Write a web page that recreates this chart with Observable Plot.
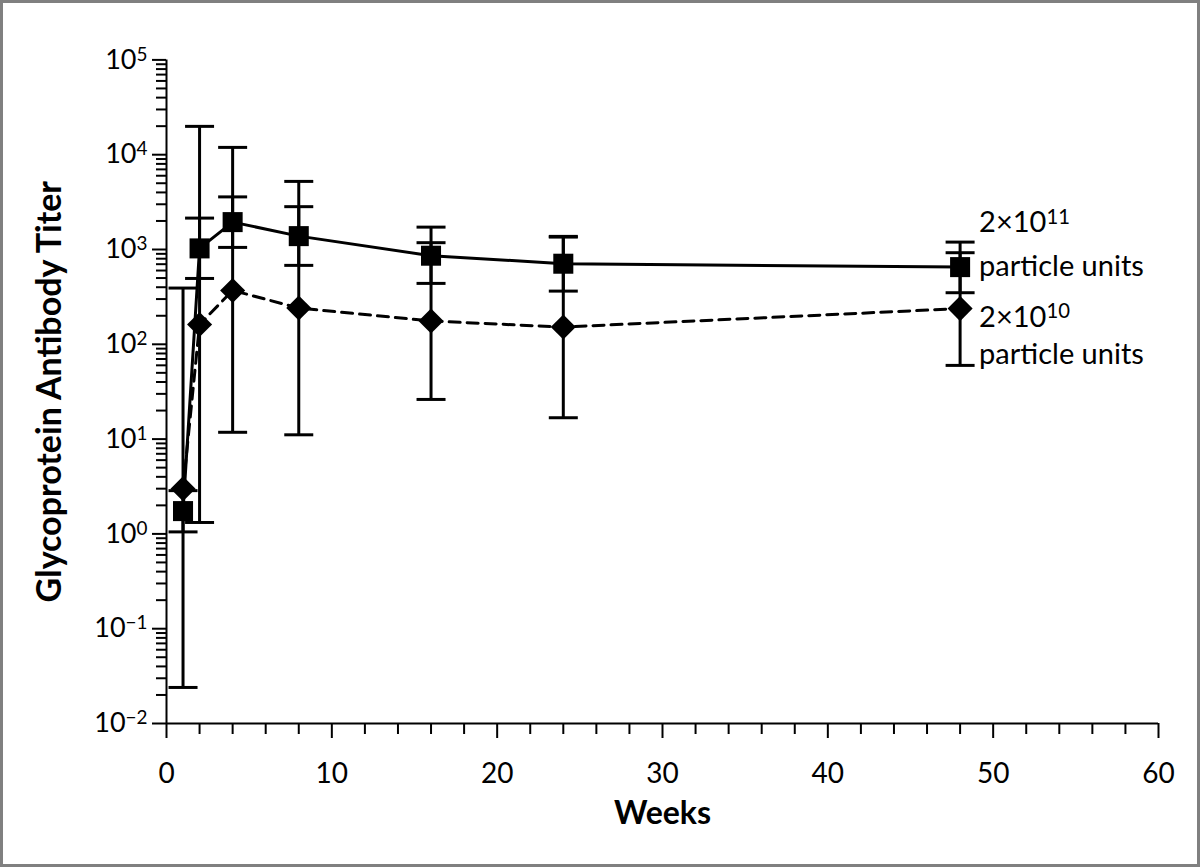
<!DOCTYPE html>
<html><head><meta charset="utf-8">
<script src="https://cdn.jsdelivr.net/npm/d3@7"></script>
<script src="https://cdn.jsdelivr.net/npm/@observablehq/plot@0.6"></script>
<style>
html,body{margin:0;padding:0;background:#fff;}
#wrap{position:relative;width:1200px;height:867px;overflow:hidden;background:#fff;}
#chart{position:absolute;left:0;top:0;}
#frame{position:absolute;left:0;top:0;width:1200px;height:867px;box-sizing:border-box;border:3px solid #808080;pointer-events:none;}
</style></head><body>
<div id="wrap"><div id="chart"></div><div id="frame"></div></div>
<script>
// ---- data ----
const weeks = [1, 2, 4, 8, 16, 24, 48];
// 2x10^11 particle units (squares, solid line)
const highMean  = [1.74, 1027, 1945, 1384, 860, 708, 652];
const highLower = [1.05, 495, 1052, 680, 439, 364, 350];
const highUpper = [2.86, 2144, 3589, 2830, 1722, 1352, 1197];
// 2x10^10 particle units (diamonds, dashed line)
const lowMean  = [3.0, 162, 370, 241, 176, 152, 238];
const lowLower = [0.024, 1.32, 11.8, 11.1, 26.2, 16.8, 59.9];
const lowUpper = [392, 19900, 11940, 5228, 1180, 1375, 925];

const xTicks = [0, 10, 20, 30, 40, 50, 60];
const xMinorTicks = [2, 4, 6, 8, 12, 14, 16, 18, 22, 24, 26, 28, 32, 34, 36, 38, 42, 44, 46, 48, 52, 54, 56, 58];
const yTicks = [1e-2, 1e-1, 1e0, 1e1, 1e2, 1e3, 1e4, 1e5];
const yMinorMultipliers = [2, 3, 4, 5, 6, 7, 8, 9];

const highLabel = ["2×10^11", "particle units"];
const lowLabel = ["2×10^10", "particle units"];
const xTitle = "Weeks";
const yTitle = "Glycoprotein Antibody Titer";

// ---- tables built from the arrays ----
const high = weeks.map((w, i) => ({week: w, mean: highMean[i], lo: highLower[i], hi: highUpper[i]}));
const low = weeks.map((w, i) => ({week: w, mean: lowMean[i], lo: lowLower[i], hi: lowUpper[i]}));
const caps = [...high, ...low].flatMap(d => [{week: d.week, v: d.lo}, {week: d.week, v: d.hi}]);
const yMinor = yTicks.slice(0, -1).flatMap(d => yMinorMultipliers.map(m => m * d));
const lastHigh = high[high.length - 1];
const lastLow = low[low.length - 1];

const capSymbol = {draw(ctx) { ctx.moveTo(-14.5, 0); ctx.lineTo(14.5, 0); }};
const expFmt = d => { const e = Math.round(Math.log10(d)); return "10^" + (e < 0 ? "\u2212" + (-e) : e); };
const noLabel = () => "";

const FONT = "Lato, 'Open Sans', sans-serif";

const chart = Plot.plot({
  width: 1200,
  height: 867,
  marginLeft: 166,
  marginRight: 42,
  marginTop: 59.4,
  marginBottom: 144,
  style: {fontFamily: FONT, fontSize: "26px", background: "white", color: "black", overflow: "visible"},
  x: {domain: [0, 60]},
  y: {type: "log", domain: [1e-2, 1e5]},
  marks: [
    // axes
    Plot.axisX({ticks: xMinorTicks, tickSize: 11, tickFormat: noLabel, label: null, strokeWidth: 2}),
    Plot.axisX({ticks: xTicks, tickSize: 15, tickPadding: 25, label: null, fontSize: 28, strokeWidth: 2}),
    Plot.axisY({ticks: yMinor, tickSize: 10, tickFormat: noLabel, label: null, strokeWidth: 2}),
    Plot.axisY({ticks: yTicks, tickSize: 14, tickPadding: 5, tickFormat: expFmt, label: null, fontSize: 27, strokeWidth: 2}),
    Plot.ruleX([0], {strokeWidth: 2}),
    Plot.ruleY([1e-2], {strokeWidth: 2}),
    // error bars
    Plot.ruleX(high, {x: "week", y1: "lo", y2: "hi", stroke: "black", strokeWidth: 3}),
    Plot.ruleX(low, {x: "week", y1: "lo", y2: "hi", stroke: "black", strokeWidth: 3}),
    Plot.dot(caps, {x: "week", y: "v", symbol: capSymbol, r: 5, stroke: "black", strokeWidth: 3, fill: "none"}),
    // lines
    Plot.line(high, {x: "week", y: "mean", stroke: "black", strokeWidth: 3}),
    Plot.line(low, {x: "week", y: "mean", stroke: "black", strokeWidth: 3, strokeDasharray: "11,7"}),
    // markers
    Plot.dot(low, {x: "week", y: "mean", symbol: "square", rotate: 45, r: 10, fill: "black", stroke: "none"}),
    Plot.dot(high, {x: "week", y: "mean", symbol: "square", r: 11.3, fill: "black", stroke: "none"}),
    // series labels
    Plot.text([lastHigh], {x: "week", y: "mean", text: () => highLabel[0], dx: 19, dy: -44, textAnchor: "start", fontSize: 29}),
    Plot.text([lastHigh], {x: "week", y: "mean", text: () => highLabel[1], dx: 19, dy: 0, textAnchor: "start", fontSize: 29}),
    Plot.text([lastLow], {x: "week", y: "mean", text: () => lowLabel[0], dx: 19, dy: 9, textAnchor: "start", fontSize: 29}),
    Plot.text([lastLow], {x: "week", y: "mean", text: () => lowLabel[1], dx: 19, dy: 46, textAnchor: "start", fontSize: 29}),
    // titles
    Plot.text([yTitle], {frameAnchor: "left", textAnchor: "middle", text: d => d, dx: -116, rotate: -90, fontWeight: "bold", fontSize: 34}),
    Plot.text([xTitle], {frameAnchor: "bottom", textAnchor: "middle", text: d => d, dy: 100, fontWeight: "bold", fontSize: 32})
  ]
});

// turn "a^b" into text with a superscript tspan
chart.querySelectorAll("text").forEach(t => {
  if (t.querySelector("tspan")) return;
  const s = t.textContent;
  const k = s.indexOf("^");
  if (k < 0) return;
  t.textContent = s.slice(0, k);
  const sup = document.createElementNS("http://www.w3.org/2000/svg", "tspan");
  sup.setAttribute("dy", "-0.42em");
  sup.setAttribute("font-size", "0.7em");
  sup.textContent = s.slice(k + 1);
  t.appendChild(sup);
});

document.getElementById("chart").appendChild(chart);
</script>
</body></html>
